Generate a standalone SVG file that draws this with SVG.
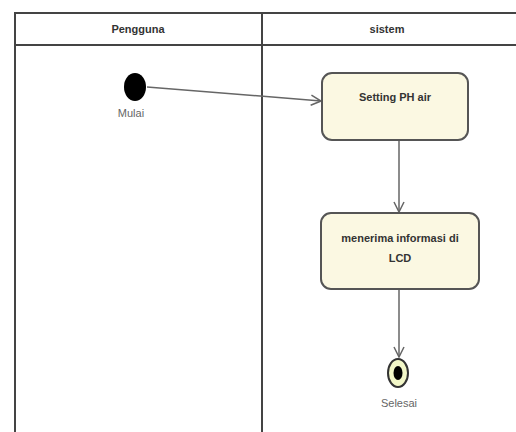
<svg xmlns="http://www.w3.org/2000/svg" width="516" height="432" viewBox="0 0 516 432">
<style>
.lane{fill:none;stroke:#444;stroke-width:2}
.act{fill:#fbf8e2;stroke:#555;stroke-width:2}
.t{font-family:"Liberation Sans",Arial,sans-serif;font-size:11px;font-weight:bold;fill:#333;text-anchor:middle}
.lbl{font-family:"Liberation Sans",Arial,sans-serif;font-size:11px;fill:#666;text-anchor:middle}
.edge{fill:none;stroke:#666;stroke-width:1.5}
</style>
<defs>
<marker id="arr" viewBox="0 0 12 12" refX="11" refY="6" markerWidth="12" markerHeight="12" markerUnits="userSpaceOnUse" orient="auto">
<path d="M1,1 L11,6 L1,11" fill="none" stroke="#666" stroke-width="1.5"/>
</marker>
</defs>
<rect width="516" height="432" fill="#fff"/>
<g id="lanes">
<path class="lane" d="M15,440 L15,13 L520,13"/>
<line class="lane" x1="15" y1="45" x2="520" y2="45"/>
<line class="lane" x1="262" y1="13" x2="262" y2="440"/>
<text class="t" x="138" y="33">Pengguna</text>
<text class="t" x="387" y="33">sistem</text>
</g>
<g id="edges">
<path class="edge" d="M147,87 L321,101" marker-end="url(#arr)"/>
<path class="edge" d="M399,140 L399,212" marker-end="url(#arr)"/>
<path class="edge" d="M399,290 L399,357" marker-end="url(#arr)"/>
</g>
<g id="start">
<ellipse cx="135" cy="87" rx="11" ry="14" fill="#000"/>
<text class="lbl" x="131" y="117">Mulai</text>
</g>
<g id="setting">
<rect class="act" x="322" y="73" width="146" height="67" rx="10"/>
<text class="t" x="395" y="101">Setting PH air</text>
</g>
<g id="menerima">
<rect class="act" x="321" y="213" width="158" height="76" rx="10"/>
<text class="t" x="400" y="242">menerima informasi di</text>
<text class="t" x="400" y="262">LCD</text>
</g>
<g id="end">
<ellipse cx="398" cy="373" rx="10" ry="14" fill="#f2f7c8" stroke="#333" stroke-width="2"/>
<ellipse cx="398" cy="373" rx="4.5" ry="7" fill="#000"/>
<text class="lbl" x="399" y="407">Selesai</text>
</g>
</svg>
